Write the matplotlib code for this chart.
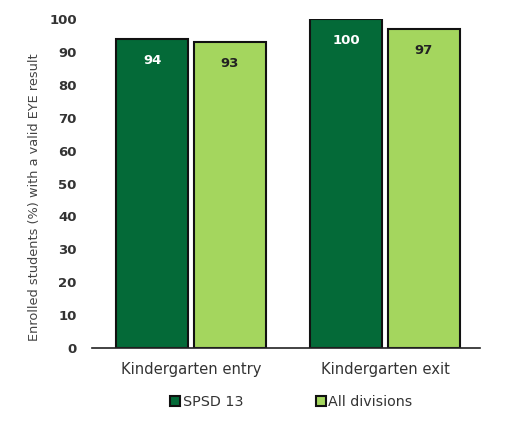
import matplotlib
matplotlib.use("Agg")
import matplotlib.pyplot as plt
import numpy as np

categories = ["Kindergarten entry", "Kindergarten exit"]
series_names = ["SPSD 13", "All divisions"]
spsd = [94, 100]
alldiv = [93, 97]
yticks = [0, 10, 20, 30, 40, 50, 60, 70, 80, 90, 100]

plt.rcParams['font.family'] = ['DejaVu Sans']

fig = plt.figure(figsize=(5.06, 4.24), dpi=100)
ax = fig.add_axes([0.182, 0.179, 0.767, 0.776])

dark = "#046a38"
light = "#a4d65e"
x = np.arange(len(categories))
w = 0.37
off = 0.2
b1 = ax.bar(x - off, spsd, w, color=dark, edgecolor="#111111", linewidth=1.5, label=series_names[0])
b2 = ax.bar(x + off, alldiv, w, color=light, edgecolor="#111111", linewidth=1.5, label=series_names[1])

for bars, vals, col in [(b1, spsd, "white"), (b2, alldiv, "#222222")]:
    for r, v in zip(bars, vals):
        ax.text(r.get_x() + r.get_width() / 2, v - 6.6, str(v), ha="center", va="center",
                fontsize=9.5, fontweight="bold", color=col)

ax.set_ylim(0, 100)
ax.set_xlim(-0.51, 1.49)
ax.set_yticks(yticks)
ax.set_yticklabels([str(t) for t in yticks], fontsize=9.5, fontweight="bold", color="#333333")
ax.set_xticks(x)
ax.set_xticklabels(categories, fontsize=10.6, color="#333333")
ax.tick_params(axis="y", length=0, pad=11)
ax.tick_params(axis="x", length=0, pad=10)
for s in ["top", "right", "left"]:
    ax.spines[s].set_visible(False)
ax.spines["bottom"].set_color("#222222")
ax.spines["bottom"].set_linewidth(1.2)

fig.text(0.068, 0.535, "Enrolled students (%) with a valid EYE result", rotation=90,
         ha="center", va="center", fontsize=9.3, color="#444444")

fig.legend(handles=[b1, b2], labels=series_names, loc="center", bbox_to_anchor=(0.576, 0.052),
           ncol=2, frameon=False, fontsize=10.3, handlelength=0.7, handleheight=0.7,
           handletextpad=0.15, columnspacing=5.1, labelcolor="#333333")

fig.savefig("out.png", dpi=100)
